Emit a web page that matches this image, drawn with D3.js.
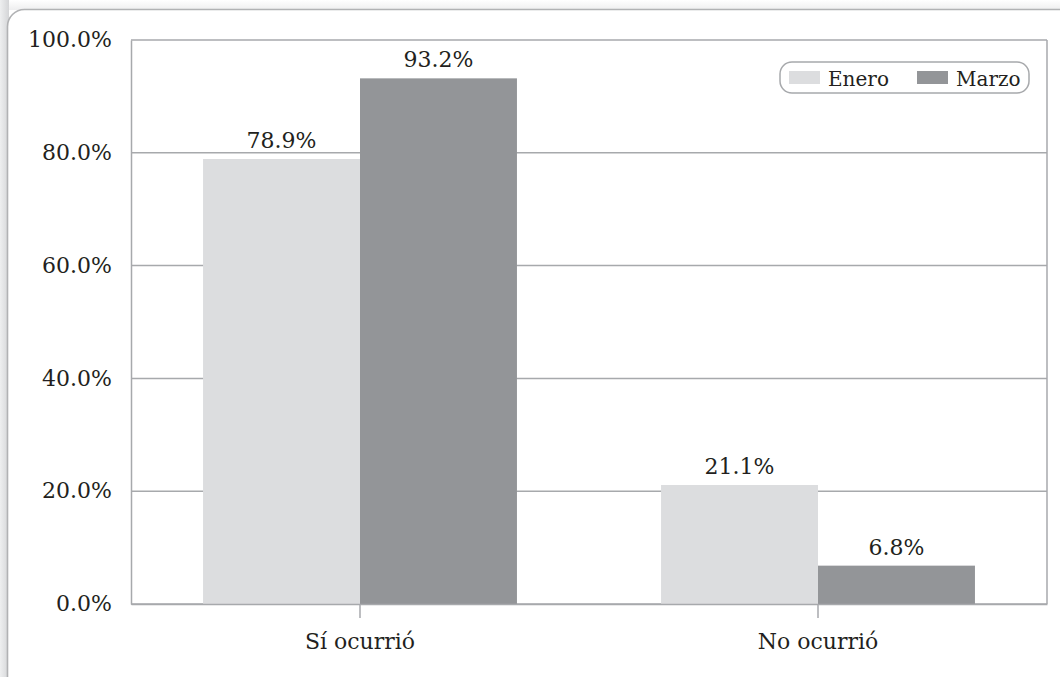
<!DOCTYPE html>
<html lang="es">
<head>
<meta charset="utf-8">
<script src="https://cdn.jsdelivr.net/npm/d3@7"></script>
<style>
  html, body { margin: 0; padding: 0; background: #ffffff; }
  svg { display: block; }
  text { font-family: "DejaVu Serif", "Liberation Serif", serif; fill: #231f20; }
</style>
</head>
<body>
<svg id="chart" width="1060" height="677"></svg>
<script>
// Data
const categories = ["Sí ocurrió", "No ocurrió"];
const seriesNames = ["Enero", "Marzo"];
const eneroValues = [0.789, 0.211];
const marzoValues = [0.932, 0.068];
const yTicks = [0, 0.2, 0.4, 0.6, 0.8, 1.0];
const seriesColors = ["#dcdddf", "#939598"];

const rows = categories.map((c, i) => ({
  category: c,
  values: [
    { series: seriesNames[0], value: eneroValues[i] },
    { series: seriesNames[1], value: marzoValues[i] }
  ]
}));

const svg = d3.select("#chart");
const W = 1060, H = 677;
const plot = { left: 131, right: 1047, top: 40, bottom: 604 };
const gridColor = "#a7a9ac";
const pct = d3.format(".1%");

// Page frame with soft shadow on the left and top
const defs = svg.append("defs");
const gLeft = defs.append("linearGradient").attr("id", "shadeLeft").attr("x1", 0).attr("x2", 1).attr("y1", 0).attr("y2", 0);
gLeft.append("stop").attr("offset", 0).attr("stop-color", "#eeeff0");
gLeft.append("stop").attr("offset", 1).attr("stop-color", "#d4d5d7");
const gTop = defs.append("linearGradient").attr("id", "shadeTop").attr("x1", 0).attr("x2", 0).attr("y1", 0).attr("y2", 1);
gTop.append("stop").attr("offset", 0).attr("stop-color", "#ffffff");
gTop.append("stop").attr("offset", 1).attr("stop-color", "#eeeeef");

svg.append("rect").attr("x", 0).attr("y", 0).attr("width", W).attr("height", 10).attr("fill", "url(#shadeTop)");
svg.append("rect").attr("x", 0).attr("y", 0).attr("width", 9).attr("height", H).attr("fill", "url(#shadeLeft)");
svg.append("rect")
  .attr("x", 7.5).attr("y", 9.5)
  .attr("width", W + 40).attr("height", H + 40)
  .attr("rx", 17).attr("ry", 17)
  .attr("fill", "#ffffff")
  .attr("stroke", "#b1b2b4")
  .attr("stroke-width", 1.6);

// Scales
const y = d3.scaleLinear().domain([0, 1]).range([plot.bottom, plot.top]);
const x0 = d3.scaleBand().domain(categories).range([plot.left, plot.right]).paddingInner(0).paddingOuter(0);
const x1 = d3.scaleBand().domain(seriesNames).range([0, x0.bandwidth()]).paddingInner(0).paddingOuter(0.459);
const color = d3.scaleOrdinal().domain(seriesNames).range(seriesColors);

// Gridlines
svg.append("g")
  .selectAll("line")
  .data(yTicks)
  .join("line")
  .attr("x1", plot.left).attr("x2", plot.right)
  .attr("y1", d => y(d)).attr("y2", d => y(d))
  .attr("stroke", gridColor)
  .attr("stroke-width", 1.5);

// Right border of the plot area
svg.append("line")
  .attr("x1", plot.right).attr("x2", plot.right)
  .attr("y1", plot.top).attr("y2", plot.bottom)
  .attr("stroke", gridColor).attr("stroke-width", 1.5);

// Bars
const groups = svg.append("g")
  .selectAll("g")
  .data(rows)
  .join("g")
  .attr("transform", d => `translate(${x0(d.category)},0)`);

groups.selectAll("rect")
  .data(d => d.values)
  .join("rect")
  .attr("x", d => x1(d.series))
  .attr("width", x1.bandwidth())
  .attr("y", d => y(d.value))
  .attr("height", d => y(0) - y(d.value))
  .attr("fill", d => color(d.series));

// Value labels
groups.selectAll("text")
  .data(d => d.values)
  .join("text")
  .attr("x", d => x1(d.series) + x1.bandwidth() / 2)
  .attr("y", d => y(d.value) - 11)
  .attr("text-anchor", "middle")
  .attr("font-size", 22)
  .text(d => pct(d.value));

// Y axis
const yAxis = svg.append("g")
  .attr("transform", `translate(${plot.left},0)`)
  .call(d3.axisLeft(y).tickValues(yTicks).tickFormat(pct).tickSize(0).tickPadding(19));
yAxis.select(".domain").attr("stroke", gridColor).attr("stroke-width", 1.5);
yAxis.selectAll(".tick text")
  .attr("font-size", 22)
  .attr("font-family", "DejaVu Serif, Liberation Serif, serif")
  .attr("fill", "#231f20")
  .attr("dy", "0.3em");

// X axis
const xAxis = svg.append("g")
  .attr("transform", `translate(0,${plot.bottom})`)
  .call(d3.axisBottom(x0).tickSizeInner(14).tickSizeOuter(0).tickPadding(15));
xAxis.select(".domain").attr("stroke", gridColor).attr("stroke-width", 1.5);
xAxis.selectAll(".tick line").attr("stroke", gridColor).attr("stroke-width", 1.5);
xAxis.selectAll(".tick text")
  .attr("font-size", 22)
  .attr("font-family", "DejaVu Serif, Liberation Serif, serif")
  .attr("fill", "#231f20");

// Legend
const legend = svg.append("g").attr("transform", "translate(780,62)");
legend.append("rect")
  .attr("x", 0).attr("y", 0)
  .attr("width", 249).attr("height", 31)
  .attr("rx", 12).attr("ry", 12)
  .attr("fill", "#ffffff")
  .attr("stroke", gridColor)
  .attr("stroke-width", 1.5);
const legendOffsets = [9, 137];
const items = legend.selectAll("g.item")
  .data(seriesNames)
  .join("g")
  .attr("class", "item")
  .attr("transform", (d, i) => `translate(${legendOffsets[i]},0)`);
items.append("rect")
  .attr("x", 0).attr("y", 9)
  .attr("width", 31).attr("height", 13)
  .attr("fill", d => color(d));
items.append("text")
  .attr("x", 39).attr("y", 24)
  .attr("font-size", 20)
  .text(d => d);
</script>
</body>
</html>
